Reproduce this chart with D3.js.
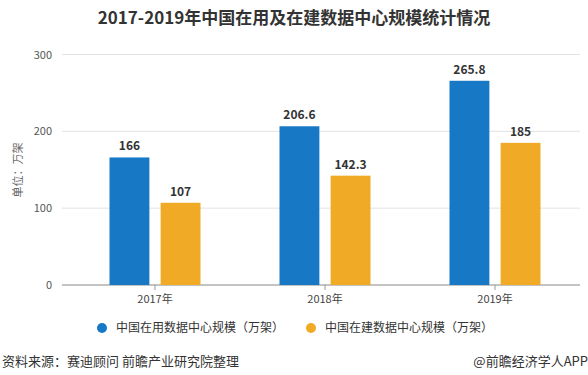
<!DOCTYPE html>
<html>
<head>
<meta charset="utf-8">
<script src="https://cdnjs.cloudflare.com/ajax/libs/d3/7.8.5/d3.min.js"></script>
<style>
  body { margin: 0; background: #fff; }
  text { font-family: "Noto Sans CJK SC", "Noto Sans", sans-serif; }
</style>
</head>
<body>
<script>
const years = ['2017年', '2018年', '2019年'];
const series = ['中国在用数据中心规模（万架）', '中国在建数据中心规模（万架）'];
const inUse = [166, 206.6, 265.8];
const building = [107, 142.3, 185];
const yTicks = [0, 100, 200, 300];

const W = 588, H = 375;
const colors = d3.scaleOrdinal().domain(series).range(['#1778c6', '#f0aa25']);

const svg = d3.select("body").append("svg")
  .attr("width", W)
  .attr("height", H);

const x = d3.scaleBand().domain(years).range([70, 580]);
const x1 = d3.scaleBand().domain(series).range([-45.5, 45.5]).paddingInner(0.22);
const y = d3.scaleLinear().domain([0, 300]).range([285, 54.5]);

// title
svg.append("text")
  .attr("x", W / 2)
  .attr("y", 24)
  .attr("text-anchor", "middle")
  .style("font-size", "17px")
  .style("font-weight", "bold")
  .style("fill", "#333")
  .text("2017-2019年中国在用及在建数据中心规模统计情况");

// grid + y labels
const grid = svg.append("g");
yTicks.forEach(t => {
  grid.append("line")
    .attr("x1", 62).attr("x2", 580)
    .attr("y1", y(t)).attr("y2", y(t))
    .attr("stroke", t === 0 ? "#888" : "#e2e2e2")
    .attr("stroke-width", 1);
  grid.append("text")
    .attr("x", 52)
    .attr("y", y(t) + 4)
    .attr("text-anchor", "end")
    .style("font-size", "11px")
    .style("fill", "#555")
    .text(t);
});

svg.append("text")
  .attr("transform", "translate(22,170) rotate(-90)")
  .attr("text-anchor", "middle")
  .style("font-size", "11px")
  .style("fill", "#666")
  .text("单位：万架");

// x axis
const xAxis = svg.append("g")
  .attr("transform", "translate(0,285)")
  .call(d3.axisBottom(x).tickSize(5).tickSizeOuter(0));
xAxis.select(".domain").remove();
xAxis.selectAll("line").attr("stroke", "#999");
xAxis.selectAll("text")
  .attr("dy", "0.9em")
  .style("font-size", "11px")
  .style("fill", "#444")
  .style("font-family", "\"Noto Sans CJK SC\", sans-serif");

// bars
const data = years.map((yr, i) => ({ year: yr, values: [inUse[i], building[i]] }));
const groups = svg.selectAll(".bar-group")
  .data(data)
  .enter().append("g")
  .attr("class", "bar-group")
  .attr("transform", d => `translate(${x(d.year) + x.bandwidth() / 2},0)`);

groups.selectAll("rect")
  .data(d => d.values.map((v, j) => ({ key: series[j], v })))
  .enter().append("rect")
  .attr("x", d => x1(d.key))
  .attr("width", x1.bandwidth())
  .attr("y", d => y(d.v))
  .attr("height", d => y(0) - y(d.v))
  .attr("fill", d => colors(d.key));

groups.selectAll(".val")
  .data(d => d.values.map((v, j) => ({ key: series[j], v })))
  .enter().append("text")
  .attr("class", "val")
  .attr("x", d => x1(d.key) + x1.bandwidth() / 2)
  .attr("y", d => y(d.v) - 7)
  .attr("text-anchor", "middle")
  .style("font-size", "12px")
  .style("font-weight", "bold")
  .style("fill", "#333")
  .text(d => d.v);

// legend
const legendX = [102, 311];
const legend = svg.selectAll(".legendItem")
  .data(series)
  .enter().append("g")
  .attr("class", "legendItem")
  .attr("transform", (d, i) => `translate(${legendX[i]},328)`);
legend.append("circle")
  .attr("r", 5)
  .attr("fill", d => colors(d));
legend.append("text")
  .attr("x", 14)
  .attr("y", 4)
  .style("font-size", "12px")
  .style("fill", "#333")
  .text(d => d);

// footer
svg.append("text")
  .attr("x", 2)
  .attr("y", 366)
  .style("font-size", "13px")
  .style("fill", "#333")
  .text("资料来源：赛迪顾问 前瞻产业研究院整理");
svg.append("text")
  .attr("x", 588)
  .attr("y", 366)
  .attr("text-anchor", "end")
  .style("font-size", "13px")
  .style("fill", "#333")
  .text("@前瞻经济学人APP");
</script>
</body>
</html>
